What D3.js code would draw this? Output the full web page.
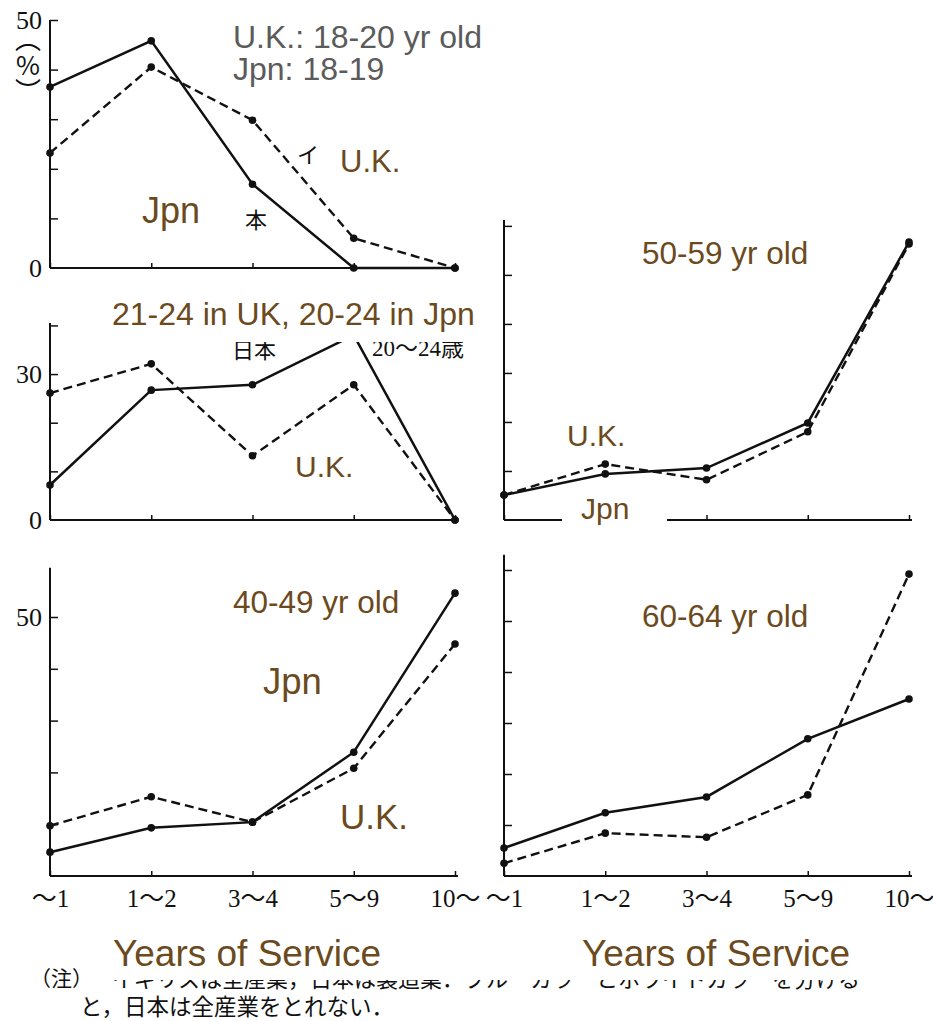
<!DOCTYPE html>
<html>
<head>
<meta charset="utf-8">
<script src="https://cdn.jsdelivr.net/npm/d3@7"></script>
<style>
  body { margin: 0; background: #fff; }
  svg { display: block; }
</style>
</head>
<body>
<svg id="chart" width="933" height="1021"></svg>
<script>
// Years of service categories (x axis)
const categories = ["〜1", "1〜2", "3〜4", "5〜9", "10〜"];

// Share of workers (%) by years of service; Japan = solid, U.K. = dashed
const jpnYoung = [36.5, 45.8, 16.9, 0, 0];      // Jpn 18-19
const ukYoung = [23.2, 40.5, 29.8, 6.0, 0];      // U.K. 18-20
const jpnTwenties = [7.2, 26.7, 27.8, 38.0, 0];  // Jpn 20-24
const ukTwenties = [26.1, 32.1, 13.2, 27.8, 0];  // U.K. 21-24
const jpnFifties = [5.1, 9.4, 10.6, 19.8, 56.7];
const ukFifties = [5.1, 11.4, 8.2, 18.0, 56.3];
const jpnForties = [4.6, 9.3, 10.4, 23.9, 54.6];
const ukForties = [9.7, 15.3, 10.4, 20.8, 44.8];
const jpnSixties = [5.5, 12.4, 15.5, 26.9, 34.7];
const ukSixties = [2.5, 8.4, 7.6, 15.9, 59.2];

// Y tick values and the ones that carry a printed label
const yTicks = [10, 20, 30, 40, 50, 60];
const yLabelsTop = [0, 50];
const yLabelsMid = [0, 30];
const yLabelsBottom = [50];

const BROWN = "#6b4a1e";
const GREY = "#5b5b5b";
const SERIF = "'Liberation Serif','Noto Sans CJK JP',serif";
const SANS = "'Liberation Sans',Arial,sans-serif";
const CJK = "'Noto Sans CJK JP',sans-serif";

const svg = d3.select("#chart");

svg.append("defs").append("clipPath").attr("id", "leftCol")
  .append("rect").attr("x", 0).attr("y", 0).attr("width", 482).attr("height", 1021);

const xLeft = d3.scalePoint().domain(categories).range([50, 455]);
const xRight = d3.scalePoint().domain(categories).range([504, 909]);

const panels = [
  { x: xLeft, y: d3.scaleLinear().domain([0, 50]).range([268, 20]), top: 50,
    labels: yLabelsTop, jpn: jpnYoung, uk: ukYoung, bottom: false },
  { x: xLeft, y: d3.scaleLinear().domain([0, 40.5]).range([520, 323]), top: 40.5,
    labels: yLabelsMid, jpn: jpnTwenties, uk: ukTwenties, bottom: false },
  { x: xRight, y: d3.scaleLinear().domain([0, 61.2]).range([520, 220]), top: 61.2,
    labels: [], jpn: jpnFifties, uk: ukFifties, bottom: false },
  { x: xLeft, y: d3.scaleLinear().domain([0, 50]).range([876, 617]), top: 59.5,
    labels: yLabelsBottom, jpn: jpnForties, uk: ukForties, bottom: true },
  { x: xRight, y: d3.scaleLinear().domain([0, 60]).range([876, 570]), top: 63,
    labels: [], jpn: jpnSixties, uk: ukSixties, bottom: true }
];

panels.forEach(p => {
  const left = p.x.range()[0] < 300;
  const g = svg.append("g");
  if (left) g.attr("clip-path", "url(#leftCol)");
  const x0 = p.x.range()[0];
  const x1 = p.x.range()[1];
  const y0 = p.y(0);

  // axis lines
  g.append("line").attr("x1", x0).attr("x2", x0)
    .attr("y1", y0).attr("y2", p.y(p.top))
    .attr("stroke", "#111").attr("stroke-width", 2);
  g.append("line").attr("x1", x0).attr("x2", x1 + 3)
    .attr("y1", y0).attr("y2", y0)
    .attr("stroke", "#111").attr("stroke-width", 2);

  // inward y ticks
  const yAxis = d3.axisRight(p.y)
    .tickValues(yTicks.filter(t => t <= p.top)).tickSize(8).tickFormat("");
  const ya = g.append("g").attr("transform", `translate(${x0},0)`).call(yAxis);
  ya.select(".domain").remove();
  ya.selectAll("line").attr("stroke", "#111").attr("stroke-width", 1.5);

  // upward x ticks
  const xAxis = d3.axisTop(p.x).tickSize(5).tickFormat("");
  const xa = g.append("g").attr("transform", `translate(0,${y0})`).call(xAxis);
  xa.select(".domain").remove();
  xa.selectAll("line").attr("stroke", "#111").attr("stroke-width", 1.5);

  // y labels
  g.selectAll(".ylab").data(p.labels).enter().append("text")
    .attr("x", x0 - 8).attr("y", d => p.y(d)).attr("dy", "0.35em")
    .attr("text-anchor", "end")
    .attr("font-family", SERIF).attr("font-size", 26).attr("fill", "#111")
    .text(d => d);

  // category labels on the bottom row
  if (p.bottom) {
    const bx = d3.axisBottom(p.x).tickSize(0).tickPadding(13);
    const ba = g.append("g").attr("transform", `translate(0,${y0})`).call(bx);
    ba.select(".domain").remove();
    ba.selectAll("text").attr("font-family", SERIF).attr("font-size", 25)
      .attr("fill", "#111");
  }

  const line = d3.line().x((d, i) => p.x(categories[i])).y(d => p.y(d));

  // U.K. dashed
  g.append("path").datum(p.uk).attr("d", line)
    .attr("fill", "none").attr("stroke", "#111").attr("stroke-width", 2.4)
    .attr("stroke-dasharray", "9,5");
  // Japan solid
  g.append("path").datum(p.jpn).attr("d", line)
    .attr("fill", "none").attr("stroke", "#111").attr("stroke-width", 2.5);

  [p.uk, p.jpn].forEach(s => {
    g.selectAll(null).data(s).enter().append("circle")
      .attr("cx", (d, i) => p.x(categories[i])).attr("cy", d => p.y(d))
      .attr("r", 3.8).attr("fill", "#111");
  });
});

// % unit mark on the first axis, set vertically in brackets
svg.append("text")
  .attr("x", 28).attr("y", 26)
  .style("writing-mode", "vertical-rl")
  .style("text-orientation", "upright")
  .attr("font-family", CJK).attr("font-size", 26).attr("fill", "#111")
  .text("（%）");

// printed Japanese series marks
const marks = svg.append("g").attr("clip-path", "url(#leftCol)")
  .attr("font-family", CJK).attr("fill", "#111");
marks.append("text").attr("x", 297).attr("y", 163).attr("font-size", 22).text("イ");
marks.append("text").attr("x", 245).attr("y", 228).attr("font-size", 22).text("本");
marks.append("text").attr("x", 232).attr("y", 358).attr("font-size", 22).text("日本");
marks.append("text").attr("x", 372).attr("y", 356).attr("font-family", SERIF)
  .attr("font-size", 23).text("20〜24歳");

// note under the chart
const note = svg.append("g").attr("font-family", CJK).attr("fill", "#111");
note.append("text").attr("x", 30).attr("y", 986).attr("font-size", 21).text("（注）");
note.append("text").attr("x", 112).attr("y", 987).attr("font-size", 22)
  .text("イギリスは全産業，日本は製造業．ブルーカラーとホワイトカラーを分ける");
note.append("text").attr("x", 80).attr("y", 1015).attr("font-size", 22.5)
  .text("と，日本は全産業をとれない．");

// English annotations on white backing
const boxes = [
  [105, 295, 376, 47],
  [562, 498, 105, 36],
  [100, 925, 833, 55]
];
svg.selectAll(".box").data(boxes).enter().append("rect")
  .attr("x", d => d[0]).attr("y", d => d[1]).attr("width", d => d[2]).attr("height", d => d[3])
  .attr("fill", "#fff");

const labels = [
  { t: "U.K.: 18-20 yr old", x: 233, y: 48, s: 32, c: GREY },
  { t: "Jpn: 18-19", x: 233, y: 80, s: 32, c: GREY },
  { t: "U.K.", x: 340, y: 172, s: 31, c: BROWN },
  { t: "Jpn", x: 142, y: 223, s: 36, c: BROWN },
  { t: "21-24 in UK, 20-24 in Jpn", x: 112, y: 325, s: 32, c: BROWN },
  { t: "U.K.", x: 295, y: 477, s: 30, c: BROWN },
  { t: "50-59 yr old", x: 642, y: 264, s: 31.5, c: BROWN },
  { t: "U.K.", x: 567, y: 446, s: 30, c: BROWN },
  { t: "Jpn", x: 581, y: 519, s: 30, c: BROWN },
  { t: "40-49 yr old", x: 233, y: 613, s: 31.5, c: BROWN },
  { t: "Jpn", x: 263, y: 694, s: 36.5, c: BROWN },
  { t: "U.K.", x: 340, y: 829, s: 35, c: BROWN },
  { t: "60-64 yr old", x: 642, y: 627, s: 31.5, c: BROWN },
  { t: "Years of Service", x: 113, y: 966, s: 37, c: BROWN },
  { t: "Years of Service", x: 582, y: 966, s: 37, c: BROWN }
];
svg.selectAll(".lab").data(labels).enter().append("text")
  .attr("x", d => d.x).attr("y", d => d.y)
  .attr("font-family", SANS).attr("font-size", d => d.s).attr("fill", d => d.c)
  .text(d => d.t);
</script>
</body>
</html>
